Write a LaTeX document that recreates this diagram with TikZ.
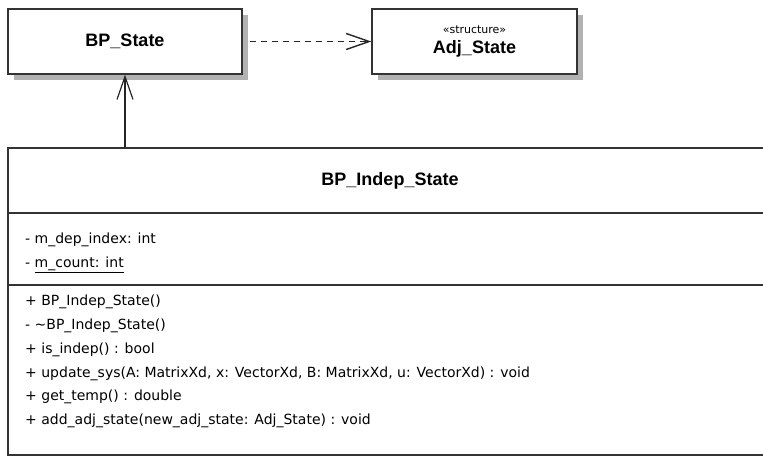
\documentclass[tikz,border=0pt]{standalone}
\usepackage{fontspec}
\setmainfont{Liberation Sans}
\newfontfamily\memberfont{DejaVu Sans}
\usetikzlibrary{shadows,arrows.meta}

\tikzset{
  classbox/.style={draw=black!80, line width=1.3pt, fill=white, rectangle,
    drop shadow={shadow xshift=6pt, shadow yshift=-6pt, fill=black!30, opacity=1}},
  classname/.style={font=\fontsize{18}{20}\selectfont\bfseries},
  member/.style={anchor=base west, inner sep=0pt, font=\memberfont\fontsize{14}{15}\selectfont}
}

\begin{document}
\begin{tikzpicture}[x=1pt, y=-1pt, >={Straight Barb[length=23pt, width=16pt]}]
  \useasboundingbox (0,0) rectangle (763,456);
  \clip (0,0) rectangle (763,456);
  % the two classes on top
  \node[classbox, classname, minimum width=234pt, minimum height=65pt] (bpstate) at (125,41.5) {BP\_State};
  \node[classbox, minimum width=205pt, minimum height=65pt, align=center,
    font=\fontsize{18}{20}\selectfont] (adjstate) at (474.5,41.5)
    {{\memberfont\fontsize{11}{12}\selectfont «structure»}\\{\bfseries Adj\_State}};
  % the big class
  \node[draw=black!80, line width=1.3pt, fill=white, minimum width=764pt, minimum height=307pt] (indep) at (390,301.5) {};
  \node[classname] (indeptitle) at (390,181) {BP\_Indep\_State};
  \draw[black!80, line width=1.3pt] (indep.west |- 0,213) -- (indep.east |- 0,213);
  \draw[black!80, line width=1.3pt] (indep.west |- 0,285) -- (indep.east |- 0,285);
  % attributes
  \node[member] (attr1) at (25,243) {- m\_dep\_index: int};
  \node[member] (attr2) at (25,267) {- \underline{m\_count: int}};
  % operations
  \node[member] (op1) at (25,305) {+ BP\_Indep\_State()};
  \node[member] (op2) at (25,329) {- \textasciitilde BP\_Indep\_State()};
  \node[member] (op3) at (25,353) {+ is\_indep() : bool};
  \node[member] (op4) at (25,377) {+ update\_sys(A: MatrixXd, x: VectorXd, B: MatrixXd, u: VectorXd) : void};
  \node[member] (op5) at (25,400) {+ get\_temp() : double};
  \node[member] (op6) at (25,424) {+ add\_adj\_state(new\_adj\_state: Adj\_State) : void};
  % connectors
  \draw[->, line width=1.2pt, black!85] (indep.north -| bpstate) -- (bpstate.south);
  \draw[->, line width=1.4pt, black!85, dash pattern=on 6pt off 5pt] ([xshift=7pt]bpstate.east) -- (adjstate.west);
\end{tikzpicture}
\end{document}
